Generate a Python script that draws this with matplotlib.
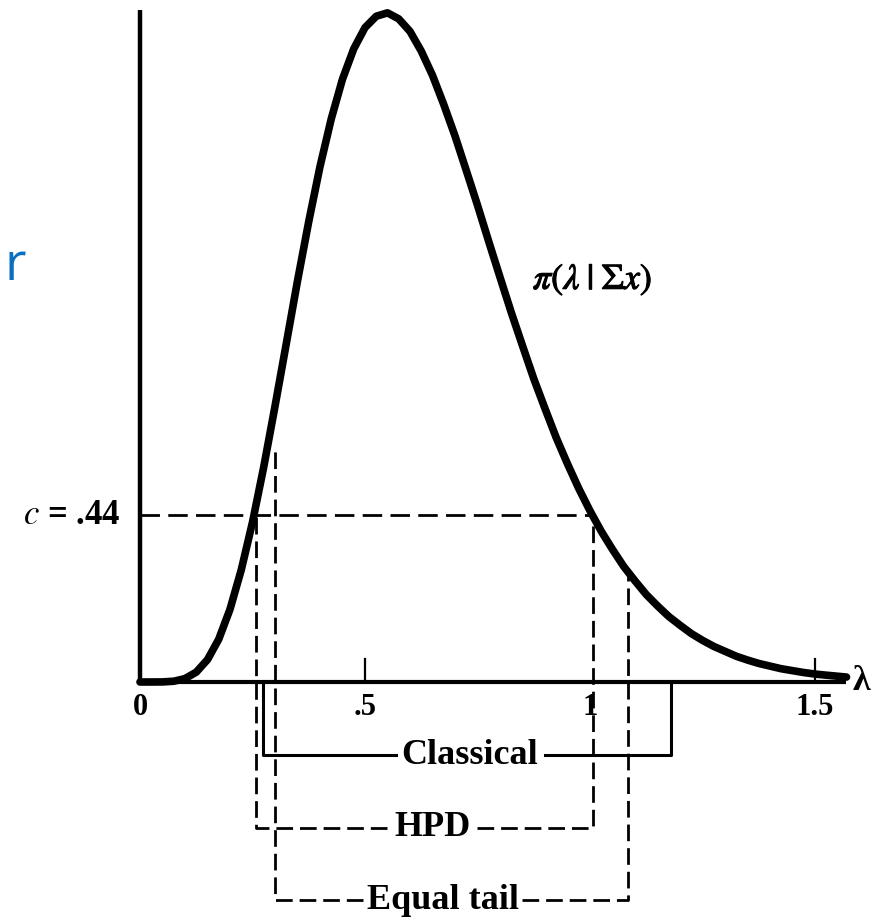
import matplotlib.pyplot as plt
import matplotlib.patheffects as pe

# posterior density pi(lambda | sum x)
lam = [0.0, 0.025, 0.05, 0.075, 0.10, 0.125, 0.15, 0.175, 0.20, 0.225, 0.25,
       0.275, 0.30, 0.325, 0.35, 0.375, 0.40, 0.425, 0.45, 0.475, 0.50, 0.525,
       0.55, 0.575, 0.60, 0.625, 0.65, 0.675, 0.70, 0.725, 0.75, 0.775, 0.80,
       0.825, 0.85, 0.875, 0.90, 0.925, 0.95, 0.975, 1.00, 1.025, 1.05, 1.075,
       1.10, 1.125, 1.15, 1.175, 1.20, 1.225, 1.25, 1.275, 1.30, 1.325, 1.35,
       1.375, 1.40, 1.425, 1.45, 1.475, 1.50, 1.525, 1.57]
dens = [0.0, 0.0, 0.0002, 0.002, 0.009, 0.026, 0.059, 0.113, 0.192, 0.296,
        0.422, 0.568, 0.728, 0.893, 1.059, 1.216, 1.361, 1.487, 1.592, 1.672,
        1.728, 1.758, 1.767, 1.751, 1.718, 1.666, 1.602, 1.525, 1.442, 1.351,
        1.259, 1.163, 1.069, 0.976, 0.888, 0.801, 0.722, 0.645, 0.576, 0.511,
        0.452, 0.398, 0.350, 0.305, 0.267, 0.231, 0.201, 0.173, 0.150, 0.128,
        0.110, 0.094, 0.081, 0.068, 0.058, 0.049, 0.042, 0.035, 0.030, 0.025,
        0.021, 0.018, 0.013]

c_level = 0.44
hpd = [0.258, 1.007]
equal_tail = [0.30, 1.084]
classical = [0.273, 1.18]

tick_pos = [0, 0.5, 1, 1.5]
tick_labels = ["0", ".5", "1", "1.5"]

plt.rcParams["mathtext.fontset"] = "stix"
serif = "Liberation Serif"
thick = [pe.withStroke(linewidth=0.8, foreground="black")]

fig = plt.figure(figsize=(8.78, 9.23), dpi=100)
ax = fig.add_axes([0, 0, 1, 1])
ax.set_xlim(-0.3111, 1.64)
ax.set_ylim(-0.6364, 1.8009)
ax.axis("off")

# axes lines
ax.plot([0, 0], [0, 1.775], color="black", lw=3.2, solid_capstyle="butt")
ax.plot([0, 1.57], [0, 0], color="black", lw=3, solid_capstyle="butt")
for t in [0.5, 1.5]:
    ax.plot([t, t], [0, 0.062], color="black", lw=1.6)
for t, s in zip(tick_pos, tick_labels):
    ax.text(t, -0.068, s, ha="center", va="center", fontsize=22,
            family=serif, fontweight="bold")
ax.text(1.603, 0.0, "λ", ha="center", va="center", fontsize=26,
        family=serif, fontweight="bold")

# density curve
ax.plot(lam, dens, color="black", lw=5.5, solid_capstyle="round",
        solid_joinstyle="round", zorder=5)
ax.text(0.873, 1.062, r"$\pi(\lambda\;|\;\Sigma x)$", ha="left", va="center",
        fontsize=26, path_effects=thick)

dash = (0, (6, 2.5))
# c level
ax.plot([0, hpd[1]], [c_level, c_level], color="black", lw=2,
        linestyle=(0, (7, 3)))
ax.text(-0.044, c_level, r"$c$ = .44", ha="right", va="center", fontsize=25,
        family=serif, fontweight="bold")


def bracket(x0, x1, top0, top1, y, gap, ls, lw):
    # draw each half starting at the label so the dashes begin cleanly there
    ax.plot([gap[0], x0, x0], [y, y, top0], color="black", lw=lw, linestyle=ls)
    ax.plot([gap[1], x1, x1], [y, y, top1], color="black", lw=lw, linestyle=ls)


y_cl, y_hpd, y_eq = -0.193, -0.3855, -0.5757

# classical interval (solid)
bracket(classical[0], classical[1], 0, 0, y_cl, (0.57, 0.90), "-", 2.2)
ax.text(0.733, y_cl, "Classical", ha="center", va="center", fontsize=26,
        family=serif, fontweight="bold")

# HPD interval
bracket(hpd[0], hpd[1], c_level, c_level, y_hpd, (0.55, 0.748), dash, 2)
ax.text(0.649, y_hpd, "HPD", ha="center", va="center", fontsize=26,
        family=serif, fontweight="bold")

# equal tail interval
bracket(equal_tail[0], equal_tail[1], 0.61, 0.30, y_eq, (0.495, 0.85),
        dash, 2)
ax.text(0.673, y_eq, "Equal tail", ha="center", va="center", fontsize=26,
        family=serif, fontweight="bold")

ax.text(-0.302, 1.0615, "r", ha="left", va="baseline", fontsize=38,
        family="Open Sans", color="#0b6fc1")

fig.savefig("out.png", dpi=100)
